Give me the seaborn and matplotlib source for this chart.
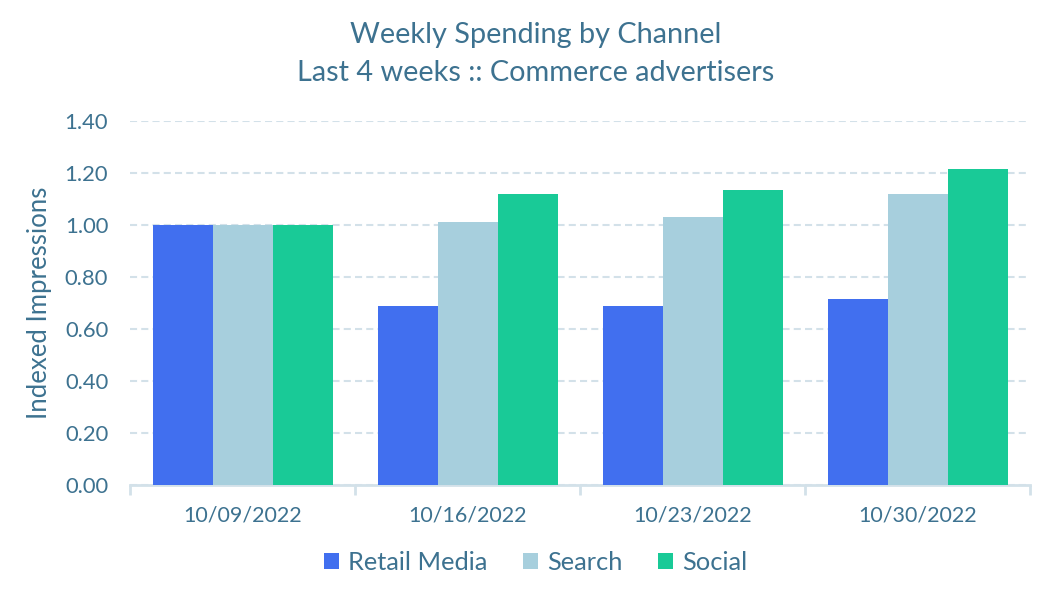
import matplotlib
matplotlib.use("Agg")
import matplotlib.pyplot as plt
import seaborn as sns
import pandas as pd
from matplotlib.ticker import FixedLocator, FormatStrFormatter

# ── data ───────────────────────────────────────────────────────────────────
weeks = ["10/09/2022", "10/16/2022", "10/23/2022", "10/30/2022"]
channels = ["Retail Media", "Search", "Social"]
retail_media = [1.00, 0.69, 0.69, 0.715]
search = [1.00, 1.01, 1.03, 1.12]
social = [1.00, 1.12, 1.135, 1.215]

TEXT = "#3D7290"
GRID = "#D3E1E9"
palette = {"Retail Media": "#416FEF", "Search": "#A7CFDD", "Social": "#19CA97"}

df = pd.DataFrame({"week": weeks * 3,
                   "channel": sum([[c] * len(weeks) for c in channels], []),
                   "value": retail_media + search + social})

sns.set_theme(style="white")
plt.rcParams["font.family"] = ["Lato", "DejaVu Sans"]

fig = plt.figure(figsize=(10.6, 6), dpi=100)
ax = fig.add_axes([0.123, 0.192, 0.849, 0.606])

sns.barplot(data=df, x="week", y="value", hue="channel", hue_order=channels,
            palette=palette, width=0.8, saturation=1, ax=ax, zorder=3,
            linewidth=0, legend=True)

ax.set_ylim(0, 1.4)
ax.set_xlim(-0.5, len(weeks) - 0.5)
ax.set_yticks([i * 0.2 for i in range(8)])
ax.yaxis.set_major_formatter(FormatStrFormatter("%.2f"))
ax.yaxis.grid(True, color=GRID, linestyle=(0, (3.4, 2.0)), linewidth=1.5,
              zorder=0)
for s in ["top", "right", "left"]:
    ax.spines[s].set_visible(False)
ax.spines["bottom"].set_color(GRID)
ax.spines["bottom"].set_linewidth(2)

ax.xaxis.set_minor_locator(FixedLocator([i - 0.5 for i in range(len(weeks) + 1)]))
ax.tick_params(axis="x", which="minor", bottom=True, length=7, width=2,
               color=GRID, direction="out")
ax.tick_params(axis="x", which="major", length=0, pad=15, labelsize=15.5,
               labelcolor=TEXT)
ax.tick_params(axis="y", length=0, pad=16, labelsize=15.8, labelcolor=TEXT)

ax.set_xlabel("")
ax.set_ylabel("Indexed Impressions", fontsize=18.5, color=TEXT, labelpad=9)

fig.text(0.505, 0.942, "Weekly Spending by Channel", ha="center",
         va="center", fontsize=20.8, color=TEXT)
fig.text(0.505, 0.878, "Last 4 weeks :: Commerce advertisers", ha="center",
         va="center", fontsize=20.8, color=TEXT)

ax.legend(loc="center", bbox_to_anchor=(0.45, -0.214), ncol=3,
          frameon=False, fontsize=18.3, labelcolor=TEXT, handlelength=0.6,
          handleheight=0.6, handletextpad=0.35, columnspacing=1.4)

fig.savefig("out.png", dpi=100)
